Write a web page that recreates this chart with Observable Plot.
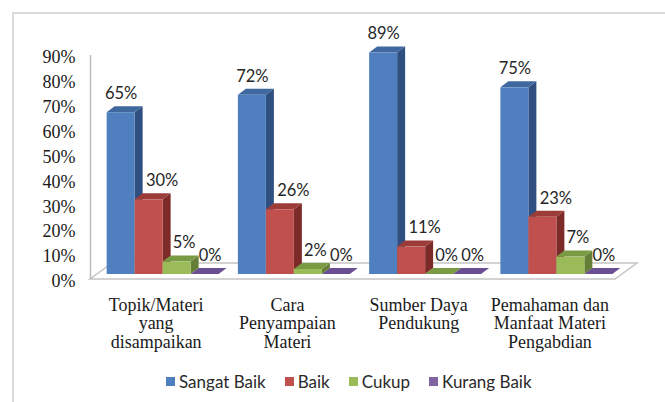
<!DOCTYPE html>
<html><head><meta charset="utf-8">
<script src="https://cdn.jsdelivr.net/npm/d3@7"></script>
<script src="https://cdn.jsdelivr.net/npm/@observablehq/plot@0.6"></script>
<style>
html,body{margin:0;padding:0;background:#fff;}
#wrap{position:relative;width:665px;height:402px;overflow:hidden;background:#fff;}
#border{position:absolute;left:12px;top:12px;width:700px;height:500px;border-top:2px solid #dadada;border-left:2px solid #dadada;}
#chart{position:absolute;left:0;top:0;}
#legend{position:absolute;left:166px;top:371px;display:flex;align-items:center;gap:19px;font-family:Lato,"Open Sans",sans-serif;font-size:17px;color:#2a2a2a;}
#legend .it{display:flex;align-items:center;gap:4px;}
#legend .sw{width:9px;height:9px;display:inline-block;}
</style></head>
<body>
<div id="wrap"><div id="border"></div><div id="chart"></div><div id="legend"></div></div>
<script>
const categories = ["Topik/Materi\nyang\ndisampaikan", "Cara\nPenyampaian\nMateri", "Sumber Daya\nPendukung", "Pemahaman dan\nManfaat Materi\nPengabdian"];
const series = ["Sangat Baik", "Baik", "Cukup", "Kurang Baik"];
const sangatBaik = [65, 72, 89, 75];
const baik = [30, 26, 11, 23];
const cukup = [5, 2, 0, 7];
const kurangBaik = [0, 0, 0, 0];
const yTicks = [0, 10, 20, 30, 40, 50, 60, 70, 80, 90];

const frontColors = ["#4f7fbe", "#c0504d", "#9bbb59", "#8064a2"];
const topColors = ["#3f689f", "#9b3c39", "#7b9a44", "#6a4f93"];
const sideColors = ["#2f4f80", "#7d2b29", "#667f36", "#553d78"];
const labelDx = [0, 13, 7, 5];

const valuesBySeries = [sangatBaik, baik, cukup, kurangBaik];
const groupW = 0.853, barW = groupW / 4;
const rows = [];
categories.forEach((c, i) => {
  series.forEach((s, j) => {
    const x1 = i - groupW / 2 + j * barW;
    rows.push({cat: c, ci: i, series: s, si: j, value: valuesBySeries[j][i], x1, x2: x1 + barW, xm: x1 + barW / 2});
  });
});

const OX = 7, OY = -5;   // mid-depth plane of the bars
const DX = 8, DY = -6;   // bar depth
const FX = 22, FY = -16; // floor depth

function floorMark(index, scales, values, dim) {
  const X0 = dim.marginLeft, X1 = dim.width - dim.marginRight, Y = scales.y(0);
  const g = d3.create("svg:g");
  g.append("path")
    .attr("d", `M${X0},${Y}L${X1},${Y}L${X1 + FX},${Y + FY}L${X0 + FX},${Y + FY}Z`)
    .attr("fill", "#fff").attr("stroke", "#c4c4c4").attr("stroke-width", 1.5);
  return g.node();
}

function facesMark(index, scales) {
  const {x, y} = scales;
  const g = d3.create("svg:g");
  for (const r of rows) {
    const X1 = x(r.x1) + OX, X2 = x(r.x2) + OX, Y0 = y(0) + OY, YV = y(r.value) + OY;
    g.append("path")
      .attr("d", `M${X2},${YV}L${X2 + DX},${YV + DY}L${X2 + DX},${Y0 + DY}L${X2},${Y0}Z`)
      .attr("fill", sideColors[r.si]);
    g.append("path")
      .attr("d", `M${X1},${YV}L${X2},${YV}L${X2 + DX},${YV + DY}L${X1 + DX},${YV + DY}Z`)
      .attr("fill", topColors[r.si]);
  }
  return g.node();
}

const labelMarks = series.map((s, j) => Plot.text(rows.filter(r => r.si === j), {
  x: "xm", y: "value", text: d => d.value + "%",
  dx: OX + labelDx[j], dy: OY - 19,
  fontFamily: "Lato, 'Open Sans', sans-serif", fontSize: 16.5, fill: "#262626"
}));

const chart = Plot.plot({
  width: 665, height: 360,
  marginLeft: 90, marginRight: 50, marginTop: 55, marginBottom: 81,
  x: {domain: [-0.5, 3.5], axis: null},
  y: {domain: [0, 90], axis: null},
  style: {background: "transparent", overflow: "visible"},
  marks: [
    floorMark,
    Plot.ruleX([-0.5], {stroke: "#bdbdbd", strokeWidth: 1.5}),
    facesMark,
    Plot.rectY(rows, {x1: "x1", x2: "x2", y1: 0, y2: "value", fill: d => frontColors[d.si], dx: OX, dy: OY}),
    ...labelMarks,
    Plot.text(yTicks, {y: d => d, text: d => d + "%", frameAnchor: "left", textAnchor: "end", dx: -15, dy: 2,
      fontFamily: "'Liberation Serif', serif", fontSize: 18, fill: "#1a1a1a"}),
    Plot.text(categories, {x: (d, i) => i, y: 0, text: d => d, lineAnchor: "top", dy: 18, lineHeight: 1.03,
      fontFamily: "'Liberation Serif', serif", fontSize: 18, fill: "#1a1a1a"})
  ]
});
document.getElementById("chart").appendChild(chart);

const legend = document.getElementById("legend");
series.forEach((s, j) => {
  const it = document.createElement("div");
  it.className = "it";
  it.innerHTML = `<span class="sw" style="background:${frontColors[j]}"></span><span>${s}</span>`;
  legend.appendChild(it);
});
</script>
</body></html>
